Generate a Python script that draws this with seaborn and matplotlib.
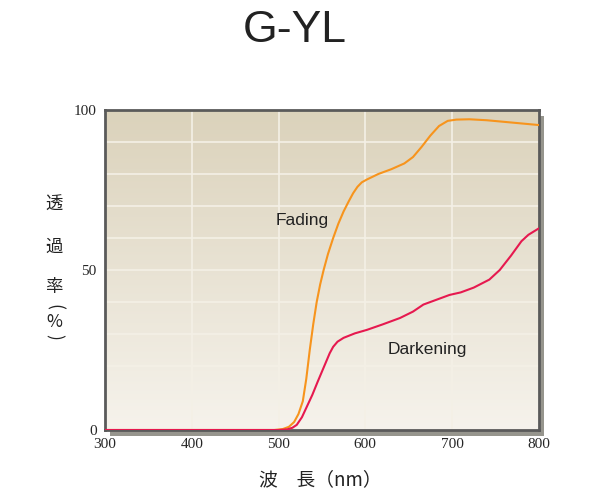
import matplotlib
matplotlib.use("Agg")
import matplotlib.pyplot as plt
import numpy as np
import pandas as pd
import seaborn as sns
from matplotlib.colors import LinearSegmentedColormap
from matplotlib.patches import Rectangle

# transmittance curves (wavelength nm -> %)
fading_wl = [300, 400, 495, 505, 512, 518, 523, 528, 532, 536, 540, 544, 548,
             552, 557, 563, 569, 575, 581, 586, 591, 596, 602, 615, 630, 645,
             655, 665, 675, 685, 695, 705, 720, 740, 760, 780, 800]
fading_pct = [0, 0, 0, 0.3, 1, 2.5, 5, 9, 16, 25, 33, 40, 45.5,
              50, 55, 60, 64.5, 68.3, 71.5, 74, 76, 77.4, 78.3, 80, 81.5, 83.3,
              85.3, 88.5, 92, 95, 96.6, 97, 97.1, 96.8, 96.3, 95.8, 95.3]

darkening_wl = [300, 400, 500, 510, 516, 521, 527, 533, 539, 545, 552, 559,
                563, 568, 575, 588, 602, 620, 640, 655, 667, 680, 697, 710,
                725, 743, 755, 768, 780, 788, 800]
darkening_pct = [0, 0, 0, 0.2, 0.7, 1.6, 4, 7.5, 11, 15, 19.5, 24,
                 26, 27.6, 28.8, 30.2, 31.3, 33, 35, 37, 39.2, 40.5, 42.2, 43,
                 44.5, 47, 50, 54.5, 59, 61, 63]

x_ticks = [300, 400, 500, 600, 700, 800]
y_ticks = [0, 50, 100]

curves = pd.concat([
    pd.DataFrame({"wl": fading_wl, "pct": fading_pct, "state": "Fading"}),
    pd.DataFrame({"wl": darkening_wl, "pct": darkening_pct, "state": "Darkening"}),
])
palette = {"Fading": "#f7941d", "Darkening": "#e6194f"}

sns.set_style("white")
plt.rcParams["font.family"] = ["Liberation Sans", "DejaVu Sans"]

fig = plt.figure(figsize=(6, 5), dpi=100)
ax = fig.add_axes([0.175, 0.14, 0.723, 0.64])

# drop shadow behind the plot frame
fig.patches.append(Rectangle((0.175 + 5 / 600, 0.14 - 6 / 500), 0.723, 0.64,
                             transform=fig.transFigure, facecolor="#96958d",
                             edgecolor="none", zorder=-1))

# beige vertical gradient
grad = LinearSegmentedColormap.from_list("beige", ["#f6f3ec", "#dbd2bb"])
ax.imshow(np.linspace(0, 1, 256).reshape(-1, 1), cmap=grad, aspect="auto",
          origin="lower", extent=[300, 800, 0, 100], zorder=0)

for v in np.arange(10, 100, 10):
    ax.axhline(v, color="#f4f0e6", lw=1.2, zorder=1)
for v in x_ticks[1:-1]:
    ax.axvline(v, color="#f4f0e6", lw=1.2, zorder=1)

sns.lineplot(data=curves, x="wl", y="pct", hue="state", palette=palette,
             lw=1.5, legend=False, sort=False, units="state", estimator=None,
             ax=ax, zorder=3)

ax.set_xlim(300, 800)
ax.set_ylim(0, 100)
ax.set_xticks(x_ticks)
ax.set_yticks(y_ticks)
ax.set_xticklabels([str(t) for t in x_ticks], family="Liberation Serif", fontsize=11)
ax.set_yticklabels([str(t) for t in y_ticks], family="Liberation Serif", fontsize=11)
ax.tick_params(length=0, pad=6)
ax.set_xlabel("")
ax.set_ylabel("")
for s in ax.spines.values():
    s.set_color("#5a5a5a")
    s.set_linewidth(2)

ax.text(527, 65.6, "Fading", fontsize=12.5, color="#222222", ha="center", va="center")
ax.text(671, 25.2, "Darkening", fontsize=12.5, color="#222222", ha="center", va="center")

fig.text(295 / 600, 1 - 31 / 500, "G-YL", fontsize=32, color="#222222",
         ha="center", va="center")

cjk = ["Noto Sans CJK JP", "DejaVu Sans"]
fig.text(320 / 600, 1 - 480 / 500, "波　長（nm）", family=cjk, fontsize=13.5,
         color="#222222", ha="center", va="center")
for ch, ypx in [("透", 205), ("過", 247), ("率", 287), ("%", 322)]:
    fig.text(54 / 600, 1 - ypx / 500, ch, family=cjk, fontsize=12.5,
             color="#222222", ha="center", va="center")
# parentheses turned, as in vertical Japanese writing
fig.text(54 / 600, 1 - 307 / 500, "(", family=cjk, fontsize=12.5, rotation=-90,
         color="#222222", ha="center", va="center")
fig.text(54 / 600, 1 - 337 / 500, ")", family=cjk, fontsize=12.5, rotation=-90,
         color="#222222", ha="center", va="center")

fig.savefig("out.png", dpi=100)
